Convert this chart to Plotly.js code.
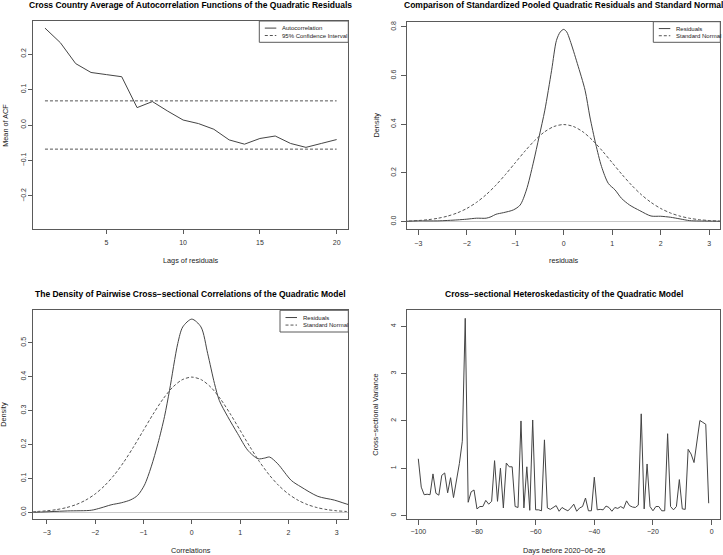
<!DOCTYPE html>
<html>
<head>
<meta charset="utf-8">
<script src="https://cdn.plot.ly/plotly-3.0.1.min.js"></script>
<style>html,body{margin:0;padding:0;background:#fff;}#chart{width:723px;height:555px;}</style>
</head>
<body>
<div id="chart"></div>
<script>
// ---------- Panel 1: mean ACF of quadratic residuals ----------
const acfLags = [1,2,3,4,5,6,7,8,9,10,11,12,13,14,15,16,17,18,19,20];
const acfValues = [0.273,0.232,0.173,0.148,0.142,0.136,0.049,0.066,0.039,0.014,0.004,-0.012,-0.042,-0.054,-0.038,-0.031,-0.052,-0.063,-0.052,-0.041];
const ciLags = [1,20];
const ciUpper = [0.068,0.068];
const ciLower = [-0.068,-0.068];

// ---------- Standard normal density (read values) ----------
const normX = [-3.4,-3.2,-3.0,-2.8,-2.6,-2.4,-2.2,-2.0,-1.8,-1.6,-1.4,-1.2,-1.0,-0.8,-0.6,-0.4,-0.2,0.0,0.2,0.4,0.6,0.8,1.0,1.2,1.4,1.6,1.8,2.0,2.2,2.4,2.6,2.8,3.0,3.2,3.4];
const normY = [0.0012,0.0024,0.0044,0.0079,0.0136,0.0224,0.0355,0.0540,0.0790,0.1109,0.1497,0.1942,0.2420,0.2897,0.3332,0.3683,0.3910,0.3989,0.3910,0.3683,0.3332,0.2897,0.2420,0.1942,0.1497,0.1109,0.0790,0.0540,0.0355,0.0224,0.0136,0.0079,0.0044,0.0024,0.0012];

// ---------- Panel 2: pooled standardized quadratic residuals ----------
const resX = [-3.4,-3.0,-2.6,-2.2,-2.0,-1.8,-1.6,-1.5,-1.4,-1.24,-1.04,-0.9,-0.77,-0.63,-0.505,-0.39,-0.25,-0.15,-0.07,0.0,0.06,0.13,0.28,0.44,0.54,0.66,0.78,0.92,1.06,1.19,1.36,1.57,1.8,2.0,2.2,2.4,2.6,3.0,3.4];
const resY = [0.000,0.003,0.003,0.007,0.010,0.014,0.014,0.020,0.030,0.037,0.048,0.068,0.130,0.240,0.352,0.458,0.622,0.745,0.780,0.790,0.780,0.745,0.650,0.540,0.430,0.319,0.226,0.157,0.130,0.096,0.068,0.045,0.023,0.022,0.018,0.011,0.004,0.002,0.001];

// ---------- Panel 3: pairwise cross-sectional correlations ----------
const corX = [-3.4,-3.26,-2.57,-2.08,-1.88,-1.67,-1.46,-1.26,-1.12,-0.98,-0.84,-0.70,-0.565,-0.46,-0.29,-0.186,0.0,0.19,0.33,0.47,0.57,0.745,0.95,1.16,1.37,1.51,1.61,1.78,2.06,2.26,2.61,2.95,3.26,3.4];
const corY = [0.000,0.000,0.004,0.006,0.013,0.022,0.028,0.037,0.050,0.080,0.134,0.203,0.282,0.360,0.498,0.547,0.570,0.547,0.468,0.380,0.330,0.282,0.232,0.183,0.158,0.160,0.163,0.143,0.094,0.075,0.047,0.036,0.022,0.018];

// ---------- Panel 4: cross-sectional variance by day ----------
const days = [-100,-99,-98,-97,-96,-95,-94,-93,-92,-91,-90,-89,-88,-87,-86,-85,-84,-83,-82,-81,-80,-79,-78,-77,-76,-75,-74,-73,-72,-71,-70,-69,-68,-67,-66,-65,-64,-63,-62,-61,-60,-59,-58,-57,-56,-55,-54,-53,-52,-51,-50,-49,-48,-47,-46,-45,-44,-43,-42,-41,-40,-39,-38,-37,-36,-35,-34,-33,-32,-31,-30,-29,-28,-27,-26,-25,-24,-23,-22,-21,-20,-19,-18,-17,-16,-15,-14,-13,-12,-11,-10,-9,-8,-7,-6,-5,-4,-3,-2,-1];
const variance = [1.20,0.60,0.44,0.45,0.44,0.88,0.47,0.43,0.85,0.90,0.48,0.80,0.38,0.70,1.10,1.57,4.17,0.28,0.50,0.54,0.14,0.19,0.19,0.32,0.24,0.30,1.16,0.30,1.00,0.16,1.11,1.03,1.03,0.19,0.17,2.00,0.16,1.03,0.11,2.02,0.12,0.12,0.10,1.60,0.16,0.13,0.18,0.21,0.09,0.17,0.13,0.10,0.16,0.24,0.09,0.16,0.19,0.37,0.10,0.10,0.81,0.12,0.13,0.12,0.20,0.17,0.09,0.17,0.15,0.19,0.15,0.31,0.21,0.18,0.17,0.22,2.15,0.14,1.09,0.19,0.10,0.19,0.19,0.10,0.10,1.73,0.19,0.12,0.19,0.76,0.14,0.13,1.40,1.30,1.12,1.55,2.01,1.97,1.93,0.26];

// ---------- Text ----------
const titles = [
  "Cross Country Average of Autocorrelation Functions of the Quadratic Residuals",
  "Comparison of Standardized Pooled Quadratic Residuals and Standard Normal",
  "The Density of Pairwise Cross\u2212sectional Correlations of the Quadratic Model",
  "Cross\u2212sectional Heteroskedasticity of the Quadratic Model"
];
const xTitles = ["Lags of residuals","residuals","Correlations","Days before 2020\u221206\u221226"];
const yTitles = ["Mean of ACF","Density","Density","Cross\u2212sectional Variance"];
const legend1 = ["Autocorrelation","95% Confidence Interval"];
const legend2 = ["Residuals","Standard Normal"];

// ---------- Styling / layout ----------
const W = 723, H = 555;
const FONT = "Liberation Sans, Arial, Helvetica, sans-serif";
const LINE = "#444444";
const BOX = "#5a5a5a";
const px = v => v / W;
const py = v => 1 - v / H;

// plot boxes in pixels [left, right, top, bottom]
const boxes = [
  [33.3, 348.3, 21.0, 229.0],
  [406.7, 720.3, 21.7, 229.3],
  [33.3, 348.3, 310.3, 519.3],
  [406.7, 720.3, 310.3, 519.3]
];

function axisBase(extra) {
  return Object.assign({
    showgrid: false, zeroline: false, showline: true, mirror: true,
    linecolor: BOX, linewidth: 1, ticks: "outside", ticklen: 4, tickwidth: 1,
    tickcolor: BOX, automargin: false, fixedrange: true,
    tickfont: {family: FONT, size: 7, color: "#333"}
  }, extra);
}

const solid = {color: LINE, width: 1};
const dashed = {color: "#555555", width: 1, dash: "3px,2px"};

const traces = [
  {x: acfLags, y: acfValues, type: "scatter", mode: "lines", line: solid, xaxis: "x", yaxis: "y", name: legend1[0], showlegend: false},
  {x: ciLags, y: ciUpper, type: "scatter", mode: "lines", line: dashed, xaxis: "x", yaxis: "y", name: legend1[1], showlegend: false},
  {x: ciLags, y: ciLower, type: "scatter", mode: "lines", line: dashed, xaxis: "x", yaxis: "y", name: legend1[1], showlegend: false},
  {x: resX, y: resY, type: "scatter", mode: "lines", line: Object.assign({shape: "spline", smoothing: 0.8}, solid), xaxis: "x2", yaxis: "y2", name: legend2[0], showlegend: false},
  {x: normX, y: normY, type: "scatter", mode: "lines", line: Object.assign({shape: "spline", smoothing: 0.8}, dashed), xaxis: "x2", yaxis: "y2", name: legend2[1], showlegend: false},
  {x: corX, y: corY, type: "scatter", mode: "lines", line: Object.assign({shape: "spline", smoothing: 0.8}, solid), xaxis: "x3", yaxis: "y3", name: legend2[0], showlegend: false},
  {x: normX, y: normY, type: "scatter", mode: "lines", line: Object.assign({shape: "spline", smoothing: 0.8}, dashed), xaxis: "x3", yaxis: "y3", name: legend2[1], showlegend: false},
  {x: days, y: variance, type: "scatter", mode: "lines", line: solid, xaxis: "x4", yaxis: "y4", name: "Cross-sectional Variance", showlegend: false}
];

const dom = b => ({x: [px(b[0]), px(b[1])], y: [py(b[3]), py(b[2])]});
const d1 = dom(boxes[0]), d2 = dom(boxes[1]), d3 = dom(boxes[2]), d4 = dom(boxes[3]);

const layout = {
  width: W, height: H,
  margin: {l: 0, r: 0, t: 0, b: 0, pad: 0},
  paper_bgcolor: "#fff", plot_bgcolor: "#fff",
  showlegend: false,
  font: {family: FONT, size: 7, color: "#333"},
  xaxis: axisBase({domain: d1.x, anchor: "y", range: [0.24, 20.76], tickvals: [5,10,15,20], ticklabelstandoff: 3}),
  yaxis: axisBase({domain: d1.y, anchor: "x", range: [-0.293, 0.293], tickvals: [-0.2,-0.1,0,0.1,0.2], tickformat: ".1f", tickangle: -90}),
  xaxis2: axisBase({domain: d2.x, anchor: "y2", range: [-3.24, 3.23], tickvals: [-3,-2,-1,0,1,2,3], ticklen: 5, ticklabelstandoff: 2}),
  yaxis2: axisBase({domain: d2.y, anchor: "x2", range: [-0.0316, 0.8216], tickvals: [0,0.2,0.4,0.6,0.8], tickformat: ".1f", tickangle: -90, ticklen: 5, ticklabelstandoff: 2,
    zeroline: true, zerolinecolor: "#c8c8c8", zerolinewidth: 1}),
  xaxis3: axisBase({domain: d3.x, anchor: "y3", range: [-3.28, 3.24], tickvals: [-3,-2,-1,0,1,2,3], ticklabelstandoff: 2}),
  yaxis3: axisBase({domain: d3.y, anchor: "x3", range: [-0.0207, 0.596], tickvals: [0,0.1,0.2,0.3,0.4,0.5], tickformat: ".1f", tickangle: -90,
    zeroline: true, zerolinecolor: "#c8c8c8", zerolinewidth: 1}),
  xaxis4: axisBase({domain: d4.x, anchor: "y4", range: [-103.96, 2.96], tickvals: [-100,-80,-60,-40,-20,0], ticklen: 5}),
  yaxis4: axisBase({domain: d4.y, anchor: "x4", range: [-0.08, 4.34], tickvals: [0,1,2,3,4], tickangle: -90, ticklen: 5, ticklabelstandoff: 2}),
  annotations: [],
  shapes: []
};

// titles and axis titles
const titleY = [4.5, 5, 293.7, 293.7];
const xTitleY = [260.7, 260.7, 550.3, 550.3];
const yTitleX = [4.8, 376, 4.0, 376];
boxes.forEach((b, i) => {
  const cx = (b[0] + b[1]) / 2, cy = (b[2] + b[3]) / 2;
  layout.annotations.push({text: "<b>" + titles[i] + "</b>", xref: "paper", yref: "paper", x: px(cx), y: py(titleY[i]),
    xanchor: "center", yanchor: "middle", showarrow: false, font: {family: FONT, size: 8.5, color: "#000"}});
  layout.annotations.push({text: xTitles[i], xref: "paper", yref: "paper", x: px(cx), y: py(xTitleY[i]),
    xanchor: "center", yanchor: "middle", showarrow: false, font: {family: FONT, size: 7.3, color: "#222"}});
  layout.annotations.push({text: yTitles[i], xref: "paper", yref: "paper", x: px(yTitleX[i]), y: py(cy),
    xanchor: "center", yanchor: "middle", textangle: -90, showarrow: false, font: {family: FONT, size: 7.3, color: "#222"}});
});

// R-style legends drawn inside plot corners
function addLegend(left, right, top, bottom, labels, styles) {
  layout.shapes.push({type: "rect", xref: "paper", yref: "paper", x0: px(left), x1: px(right), y0: py(bottom), y1: py(top),
    line: {color: BOX, width: 1}, fillcolor: "rgba(255,255,255,1)", layer: "above"});
  const h = bottom - top;
  labels.forEach((lab, k) => {
    const yy = top + h * (k + 1) / 3 + (k === 0 ? 0 : 0.3);
    layout.shapes.push({type: "line", xref: "paper", yref: "paper", x0: px(left + 5.5), x1: px(left + 17), y0: py(yy), y1: py(yy),
      line: styles[k], layer: "above"});
    layout.annotations.push({text: lab, xref: "paper", yref: "paper", x: px(left + 20.5), y: py(yy), xanchor: "left", yanchor: "middle",
      showarrow: false, font: {family: FONT, size: 6, color: "#222"}});
  });
}
addLegend(259.3, 348.3, 21.0, 42.3, legend1, [solid, dashed]);
addLegend(653.3, 720.3, 21.7, 42.3, legend2, [solid, dashed]);
addLegend(280.0, 348.3, 310.3, 332.0, legend2, [solid, dashed]);

Plotly.newPlot("chart", traces, layout, {displayModeBar: false, staticPlot: true});
</script>
</body>
</html>
